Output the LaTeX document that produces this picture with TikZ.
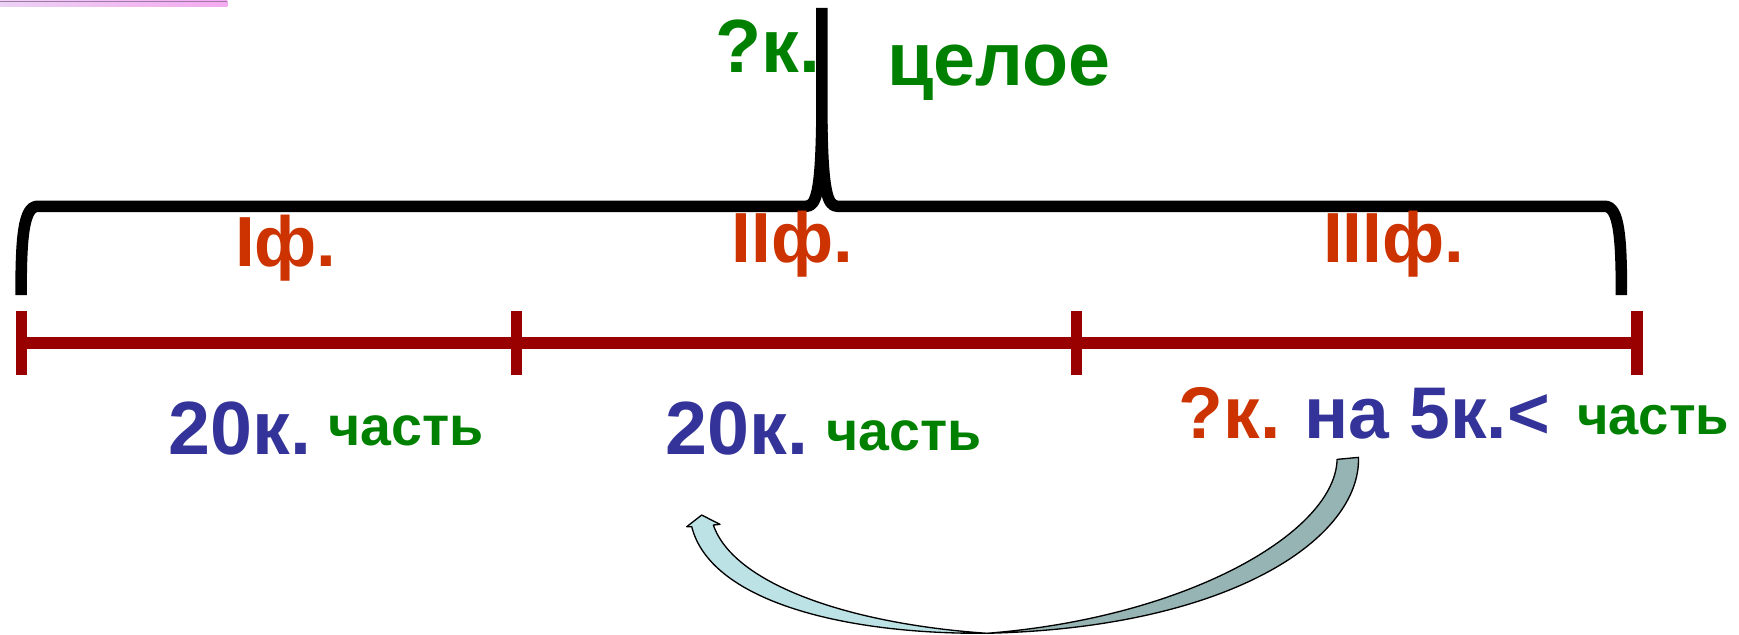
\documentclass[tikz,border=0pt]{standalone}
\usepackage{fontspec}
\setmainfont{Liberation Sans}
\definecolor{greenT}{RGB}{0,128,0}
\definecolor{orangeT}{RGB}{204,51,0}
\definecolor{blueT}{RGB}{51,51,153}
\definecolor{lineRed}{RGB}{153,0,0}
\definecolor{arrowLight}{RGB}{188,226,230}
\definecolor{arrowDark}{RGB}{150,180,180}
\definecolor{pinkA}{RGB}{236,210,244}
\definecolor{pinkB}{RGB}{244,170,240}
\definecolor{pinkEdge}{RGB}{160,120,170}
\begin{document}
\begin{tikzpicture}[x=0.5pt,y=-0.5pt,
  lbl/.style={inner sep=0pt, outer sep=0pt, anchor=base west},
  big/.style={font=\bfseries\fontsize{34}{40}\selectfont},
  bigb/.style={font=\bfseries\fontsize{33}{40}\selectfont},
  mid/.style={font=\bfseries\fontsize{32}{38}\selectfont},
  small/.style={font=\bfseries\fontsize{25}{30}\selectfont},
  smallb/.style={font=\bfseries\fontsize{24.5}{30}\selectfont},
  brace/.style={line width=5.2pt, black, line cap=butt, line join=round},
  seg/.style={line width=5.5pt, lineRed, line cap=butt},
  tickmark/.style={line width=5pt, lineRed, line cap=butt},
  arrowband/.style={draw=black, line width=0.6pt, line join=round}]
\useasboundingbox (0,0) rectangle (1568,572);
% decorative bar at top left
\shade[left color=pinkA, right color=pinkB] (0,0) rectangle (205,6);
\draw[pinkEdge, line width=0.5pt] (0,1.5) -- (205,1.5);
% brace over the three parts
\draw[brace] (19,266) .. controls (19,215) and (21,186) .. (34,186) -- (727,186)
  .. controls (736,186) and (740,172) .. (741,112) -- (741,7);
\draw[brace] (1462,266) .. controls (1462,215) and (1460,186) .. (1447,186) -- (755,186)
  .. controls (746,186) and (742,172) .. (741,112);
% segment line with ticks
\coordinate (p0) at (19,309.5);
\coordinate (p1) at (466,309.5);
\coordinate (p2) at (971,309.5);
\coordinate (p3) at (1476,309.5);
\draw[seg] (p0) -- (p3);
\foreach \p in {p0,p1,p2,p3}
  \draw[tickmark] ([yshift=14.5pt]\p) -- ([yshift=-14.5pt]\p);
% labels
\node[lbl, big, text=greenT] (qtot) at (645,65) {?к.};
\node[lbl, big, text=greenT] (whole) at (800,77) {целое};
\node[lbl, mid, text=orangeT] (f1) at (212,240) {Iф.};
\node[lbl, mid, text=orangeT] (f2) at (660,237) {IIф.};
\node[lbl, mid, text=orangeT] (f3) at (1193,237) {IIIф.};
\node[lbl, big, text=blueT] (v1) at (152,410) {20к.};
\node[lbl, small, text=greenT] (c1) at (296,402) {часть};
\node[lbl, big, text=blueT] (v2) at (600,410) {20к.};
\node[lbl, small, text=greenT] (c2) at (745,406) {часть};
\node[lbl, bigb, text=orangeT] (q3) at (1063,395) {?к.};
\node[lbl, bigb, text=blueT] (v3) at (1176,395) {на 5к.<};
\node[lbl, smallb, text=greenT] (c3) at (1422,392) {часть};
% curved block arrow from the third part to the second
\fill[arrowDark, arrowband] (1205.6,414.2) -- (1224.9,412.4)
  .. controls (1227,485) and (1110,566) .. (890,571)
  .. controls (1070,557) and (1204,480) .. cycle;
\fill[arrowLight, arrowband] (890,571)
  .. controls (755,572) and (640,540) .. (623.7,474.9)
  -- (619.2,474.9) -- (632.7,464.4) -- (649.2,472.8) -- (643.2,473.4)
  .. controls (662,528) and (770,563) .. cycle;
\end{tikzpicture}
\end{document}
